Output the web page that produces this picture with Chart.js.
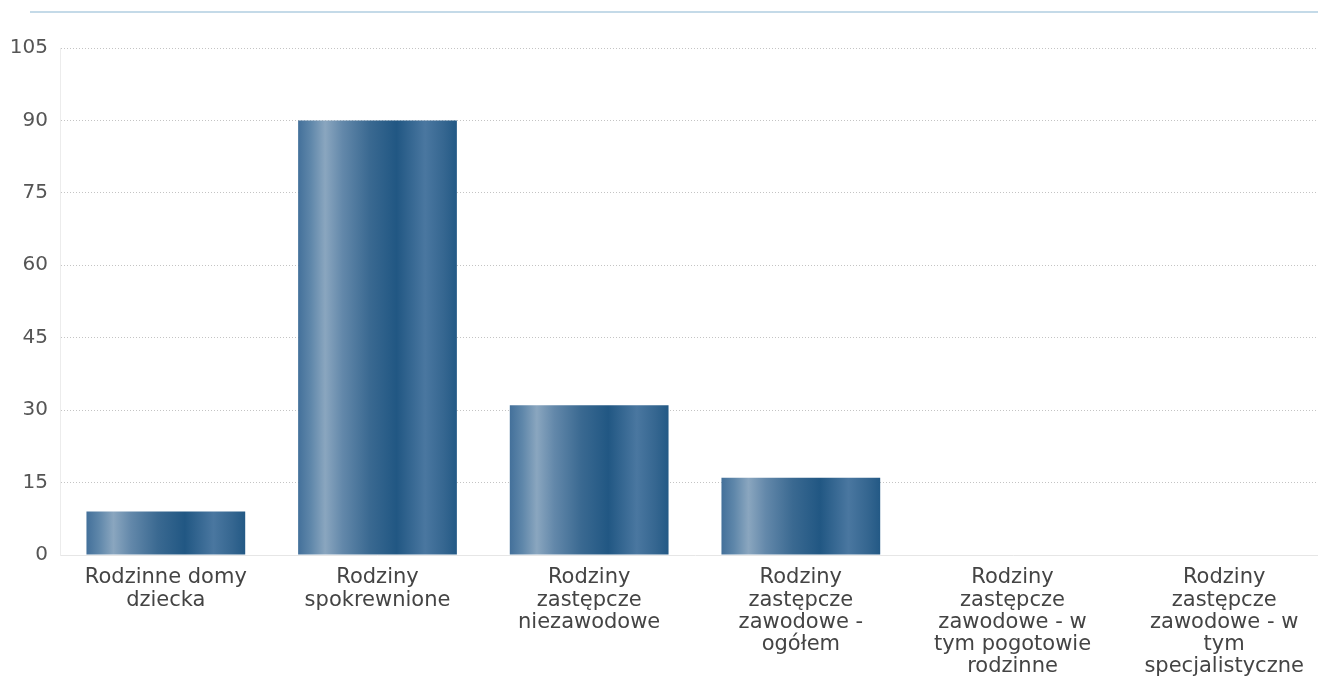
<!DOCTYPE html>
<html>
<head>
<meta charset="utf-8">
<script src="https://cdn.jsdelivr.net/npm/chart.js@4"></script>
<style>
    body { margin: 0; background: #fff; overflow: hidden; }
    #wrap { position: relative; width: 1330px; height: 676px; }
    #topline { position: absolute; left: 30px; right: 0; top: 11px; height: 2px; background: #c4dae8; }
</style>
</head>
<body>
<div id="wrap">
    <div id="topline"></div>
    <canvas id="barChart" width="1330" height="676"></canvas>
</div>
<script>
// Categories and values
const categories = [
    ['Rodzinne domy', 'dziecka'],
    ['Rodziny', 'spokrewnione'],
    ['Rodziny', 'zastępcze', 'niezawodowe'],
    ['Rodziny', 'zastępcze', 'zawodowe -', 'ogółem'],
    ['Rodziny', 'zastępcze', 'zawodowe - w', 'tym pogotowie', 'rodzinne'],
    ['Rodziny', 'zastępcze', 'zawodowe - w', 'tym', 'specjalistyczne']
];
const values = [9, 90, 31, 16, 0, 0];
const yTicks = [0, 15, 30, 45, 60, 75, 90, 105];
const barPct = 0.75;

// Horizontal metallic gradient, built from the x scale position of each bar
function barGradient(context) {
    const chart = context.chart;
    const xScale = chart.scales.x;
    if (!xScale || !chart.chartArea) return '#2f5f8a';
    const center = xScale.getPixelForValue(context.dataIndex);
    const w = (xScale.width / categories.length) * barPct;
    const left = center - w / 2;
    const g = chart.ctx.createLinearGradient(left, 0, left + w, 0);
    g.addColorStop(0, '#43709a');
    g.addColorStop(0.08, '#5f87aa');
    g.addColorStop(0.17, '#8aa6bf');
    g.addColorStop(0.28, '#6388aa');
    g.addColorStop(0.45, '#3a6991');
    g.addColorStop(0.62, '#215783');
    g.addColorStop(0.8, '#4a77a0');
    g.addColorStop(0.92, '#356690');
    g.addColorStop(1, '#235985');
    return g;
}

new Chart(document.getElementById('barChart'), {
    type: 'bar',
    data: {
        labels: categories,
        datasets: [{
            data: values,
            backgroundColor: barGradient,
            barPercentage: barPct,
            categoryPercentage: 1
        }]
    },
    options: {
        responsive: false,
        animation: false,
        layout: { padding: { top: 48, right: 0, left: 0, bottom: 0 } },
        plugins: { legend: { display: false }, tooltip: { enabled: false } },
        scales: {
            x: {
                grid: { display: false, drawTicks: false },
                border: { color: '#e6e6e6' },
                ticks: {
                    color: '#444',
                    padding: 12,
                    maxRotation: 0,
                    autoSkip: false,
                    font: { family: 'DejaVu Sans', size: 21, lineHeight: 1.05 }
                },
                afterFit(scale) { scale.height = 121; }
            },
            y: {
                min: 0,
                max: 105,
                afterBuildTicks(scale) { scale.ticks = yTicks.map(v => ({ value: v })); },
                grid: { color: '#c4c4c4', drawTicks: false, lineWidth: 1, borderDash: [1, 2] },
                border: { color: '#ececec', dash: [1, 2] },
                ticks: {
                    color: '#555',
                    padding: 12,
                    font: { family: 'DejaVu Sans', size: 20 }
                },
                afterFit(scale) { scale.width = 60; }
            }
        }
    }
});
</script>
</body>
</html>
